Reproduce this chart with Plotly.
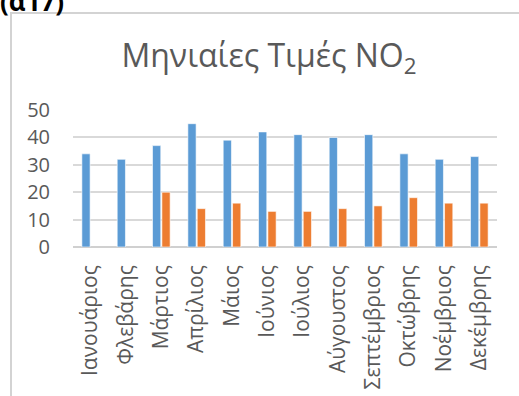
import plotly.graph_objects as go

months = ["Ιανουάριος", "Φλεβάρης", "Μάρτιος", "Απρίλιος", "Μάιος", "Ιούνιος",
          "Ιούλιος", "Αύγουστος", "Σεπτέμβριος", "Οκτώβρης", "Νοέμβριος", "Δεκέμβρης"]
series_a = [34, 32, 37, 45, 39, 42, 41, 40, 41, 34, 32, 33]
series_b = [None, None, 20, 14, 16, 13, 13, 14, 15, 18, 16, 16]
y_ticks = [0, 10, 20, 30, 40, 50]

W, H = 519, 396
L, R, T, B = 73, 22, 110, 149
pw, ph = W - L - R, H - T - B

fig = go.Figure()
fig.add_bar(x=months, y=series_a, marker=dict(color="#5B9BD5", line=dict(color="white", width=0.6)))
fig.add_bar(x=months, y=series_b, marker=dict(color="#ED7D31", line=dict(color="white", width=0.6)))

def px_x(p):
    return (p - L) / pw

def px_y(p):
    return (H - B - p) / ph

fig.update_layout(
    width=W, height=H,
    margin=dict(l=L, r=R, t=T, b=B, autoexpand=False),
    paper_bgcolor="white", plot_bgcolor="white",
    showlegend=False,
    barmode="group", bargap=0.47, bargroupgap=0.12,
    font=dict(family="Open Sans", color="#595959", size=19),
    title=dict(text="Μηνιαίες Τιμές NO<sub>2</sub>", x=269 / W, xanchor="center",
               y=1 - 67 / H, yanchor="bottom",
               font=dict(family="Open Sans", size=32, color="#595959")),
    xaxis=dict(tickangle=-90, showgrid=False, showline=False, ticks="", automargin=False,
               ticklabelstandoff=13, tickfont=dict(size=21)),
    yaxis=dict(range=[0, 50], tickvals=y_ticks, showgrid=True, gridcolor="#D9D9D9",
               gridwidth=1.5, zeroline=True, zerolinecolor="#D0D0D0", zerolinewidth=1.5,
               showline=False, ticks="", automargin=False, ticklabelstandoff=22,
               tickfont=dict(size=20)),
    annotations=[
        dict(text=" ", xref="paper", yref="paper", x=px_x(10), y=px_y(12),
             xanchor="left", yanchor="top", width=560, height=420, borderpad=0,
             bordercolor="#D3D3D3", borderwidth=2, showarrow=False),
        dict(text="<b>(α17)</b>", xref="paper", yref="paper",
             x=px_x(-2), y=px_y(21), xanchor="left", yanchor="bottom",
             showarrow=False, font=dict(family="Open Sans", size=26, color="black")),
    ],
)

fig.write_html("out.html", config={"displayModeBar": False},
               post_script="document.body.style.margin='0';")
